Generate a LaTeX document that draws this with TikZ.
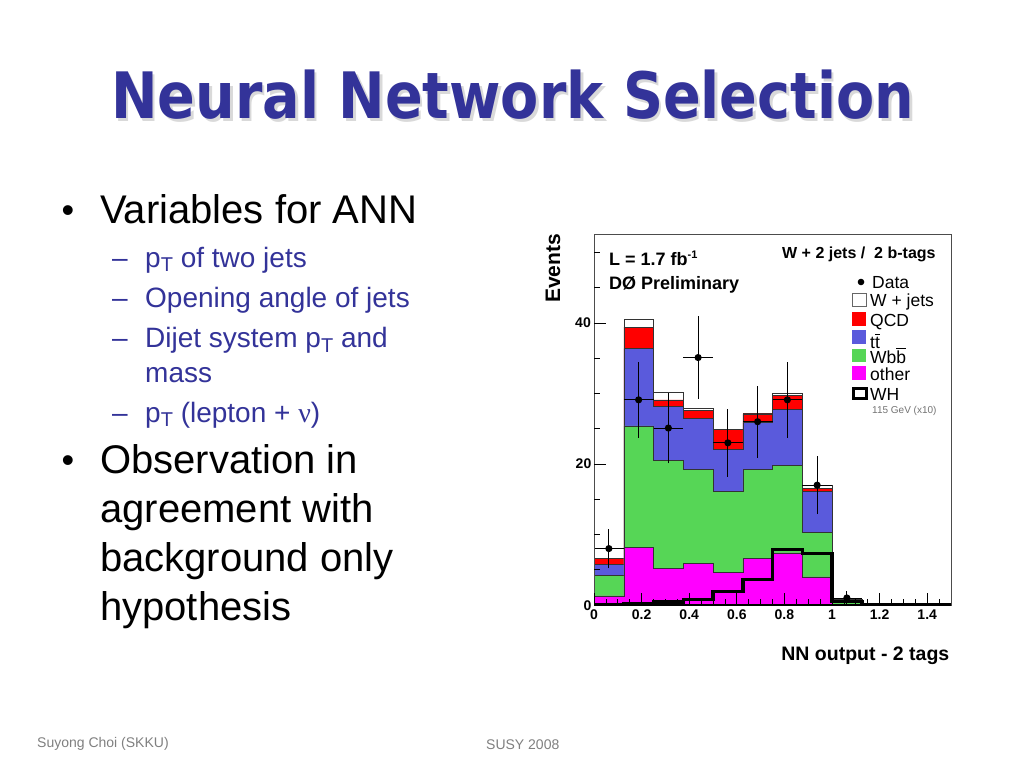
\documentclass[tikz,border=0pt]{standalone}
\usepackage{fontspec}
\usepackage{graphicx}
\setmainfont{Liberation Sans}
\newfontfamily\titlefam{DejaVu Sans}
\newfontfamily\nufam{Liberation Serif}
\newcommand{\myfs}[1]{\fontsize{#1}{#1}\selectfont}
\newcommand{\pTsym}{p\raisebox{-4.5pt}{\myfs{20}T}}
\newcommand{\ovl}[1]{\vbox{\hrule height 0.9pt\kern 1.3pt\hbox{#1}}}
\definecolor{titleblue}{RGB}{51,51,153}
\definecolor{rootblue}{RGB}{90,90,220}
\definecolor{rootgreen}{RGB}{86,214,86}
\definecolor{rootred}{RGB}{255,0,0}
\definecolor{rootmag}{RGB}{255,0,255}
\newcommand{\histlayer}[2]{%
  \filldraw[fill=#1, draw=black!80, line width=0.5pt] (0,0)
    \foreach \v [count=\k from 0] in {#2} { -- ({\k*0.125},\v) -- ({(\k+1)*0.125},\v) } -- (1.5,0) -- cycle;}
\tikzset{
  titletext/.style={anchor=base west, inner sep=0pt, text=titleblue},
  titleshadow/.style={anchor=base west, inner sep=0pt, text=black!15},
  bodytext/.style={anchor=base west, inner sep=0pt, font=\myfs{40}},
  bulletmark/.style={anchor=base, inner sep=0pt, font=\myfs{36}},
  subtext/.style={anchor=base west, inner sep=0pt, font=\myfs{28}, text=titleblue},
  foottext/.style={anchor=base west, inner sep=0pt, font=\myfs{14}, text=black!50},
  plotlab/.style={anchor=base west, inner sep=0pt, font=\bfseries\myfs{18}},
  ticklab/.style={inner sep=0pt, font=\bfseries\myfs{14}},
  legtext/.style={anchor=base west, inner sep=0pt, font=\myfs{17.5}},
  axisline/.style={black, line width=0.8pt},
  whline/.style={black, line width=3.5pt, line join=miter},
  datapt/.style={black, line width=0.8pt}
}
\begin{document}
\begin{tikzpicture}[x=1pt,y=-1pt]
\useasboundingbox (0,0) rectangle (1024,768);
\fill[white] (0,0) rectangle (1024,768);

% title
\node[titleshadow] (tshadow) at (113.5,121) {\resizebox{803pt}{\height}{\titlefam\bfseries\myfs{64}Neural Network Selection}};
\node[titletext] (title) at (111,118.5) {\resizebox{803pt}{\height}{\titlefam\bfseries\myfs{64}Neural Network Selection}};

% bullets
\node[bulletmark] (b1) at (68,222) {•};
\node[bodytext] (t1) at (100,223) {Variables for ANN};
\node[subtext] (d1) at (112,267) {–};
\node[subtext] (s1) at (145,267) {\pTsym\ of two jets};
\node[subtext] (d2) at (112,307.5) {–};
\node[subtext] (s2) at (145,307.5) {Opening angle of jets};
\node[subtext] (d3) at (112,347.5) {–};
\node[subtext] (s3) at (145,347.5) {Dijet system \pTsym\ and};
\node[subtext] (s3b) at (145,382.5) {mass};
\node[subtext] (d4) at (112,422) {–};
\node[subtext] (s4) at (145,422) {\pTsym\ (lepton + {\nufam ν})};

\node[bulletmark] (b2) at (68,472.5) {•};
\node[bodytext] (t2a) at (100,473.5) {Observation in};
\node[bodytext] (t2b) at (100,522.5) {agreement with};
\node[bodytext] (t2c) at (100,571.5) {background only};
\node[bodytext] (t2d) at (100,620.5) {hypothesis};

% footer
\node[foottext] (f1) at (37,747.5) {Suyong Choi (SKKU)};
\node[foottext] (f2) at (486,749) {SUSY 2008};

% plot
\begin{scope}[shift={(594,605)}, x=238pt, y=7.05pt]
  \histlayer{white}{8.0,40.6,30.2,27.9,25.0,27.2,30.0,17.0,0.85,0,0,0}
  \histlayer{rootred}{6.6,39.4,29.1,27.6,24.9,27.1,29.7,16.5,0.8,0,0,0}
  \histlayer{rootblue}{5.8,36.4,28.2,26.5,22.1,25.9,27.8,16.1,0.75,0,0,0}
  \histlayer{rootgreen}{4.2,25.4,20.5,19.2,16.1,19.2,19.8,10.3,0.7,0,0,0}
  \histlayer{rootmag}{1.3,8.2,5.2,5.9,4.6,6.6,7.4,4.0,0.1,0,0,0}
  % WH signal
  \draw[whline] (0,0.05)
    \foreach \v [count=\k from 0] in {0.05,0.15,0.4,0.8,1.9,3.6,7.9,7.3,0.5,0.1,0.1,0.1} { -- ({\k*0.125},\v) -- ({(\k+1)*0.125},\v) };
  % data
  \foreach \c/\v/\e in {0/8/2.8, 1/29.1/5.4, 2/25.1/5.0, 3/35.1/5.9, 4/23.0/4.8, 5/26.0/5.1, 6/29.1/5.4, 7/17.0/4.1, 8/1.0/1.0} {
    \draw[datapt] ({(\c+0.5)*0.125},{\v-\e}) -- ({(\c+0.5)*0.125},{\v+\e});
    \draw[datapt] ({\c*0.125},\v) -- ({(\c+1)*0.125},\v);
    \fill[black] ({(\c+0.5)*0.125},\v) circle[radius=3.6pt];
  }
  % frame and ticks
  \draw[black!70, line width=0.8pt] (0,0) rectangle (1.5,52.62);
  \draw[black, line width=1.3pt] (0,0) -- (1.5,0);
  \foreach \yv in {0,20,40} \draw[axisline] (0,\yv) -- ++(12pt,0);
  \foreach \yv in {5,10,15,25,30,35,45,50} \draw[axisline] (0,\yv) -- ++(6pt,0);
  \foreach \xv in {0,0.2,0.4,0.6,0.8,1,1.2,1.4} \draw[axisline] (\xv,0) -- ++(0,12pt);
  \foreach \k in {1,...,29} \draw[axisline] ({\k*0.05},0) -- ++(0,6pt);
\end{scope}

% axis labels
\node[ticklab, anchor=east] (y40) at (591,322.7) {40};
\node[ticklab, anchor=east] (y20) at (591.5,464) {20};
\node[ticklab, anchor=east] (y0) at (591.5,606) {0};
\foreach \xv/\lab [count=\n] in {0/0,0.2/0.2,0.4/0.4,0.6/0.6,0.8/0.8,1/1,1.2/1.2,1.4/1.4}
  \node[ticklab, anchor=base] (xl\n) at ({594+238*\xv},619.5) {\lab};
\node[ticklab, font=\bfseries\myfs{21}, rotate=90, anchor=base west] (ylab) at (560,303) {Events};
\node[ticklab, font=\bfseries\myfs{19.5}, anchor=base east] (xlab) at (949.5,660) {NN output - 2 tags};

% in-plot text
\node[plotlab] (lumi) at (609,265.7) {L = 1.7 fb\raisebox{7pt}{\myfs{11}-1}};
\node[plotlab] (prelim) at (609,289) {DØ Preliminary};
\node[plotlab, font=\bfseries\myfs{16}] (chan) at (782,258.3) {W + 2 jets /\ \ 2 b-tags};

% legend
\fill[black] (861,282) circle[radius=3.3pt];
\node[legtext] (lgdata) at (872,288) {Data};
\filldraw[fill=white, draw=black!60, line width=0.5pt] (852,293) rectangle (866,306.5);
\node[legtext] (lgw) at (870,306.5) {W + jets};
\fill[rootred] (852,312) rectangle (866,326);
\node[legtext] (lgqcd) at (870,326.5) {QCD};
\fill[rootblue] (852,330) rectangle (866,343.5);
\node[legtext] (lgtt) at (870,348) {t\ovl{t}};
\fill[rootgreen] (852,348.5) rectangle (866,362);
\node[legtext] (lgwbb) at (870,363) {Wb\ovl{b}};
\fill[rootmag] (852,366) rectangle (866,380);
\node[legtext] (lgoth) at (870,380) {other};
\draw[black, line width=3pt] (853.5,388) rectangle (866,398.5);
\node[legtext] (lgwh) at (870,400) {WH};
\node[legtext, font=\myfs{10}, text=black!55] (lgwh2) at (872,413) {115 GeV (x10)};
\end{tikzpicture}
\end{document}
